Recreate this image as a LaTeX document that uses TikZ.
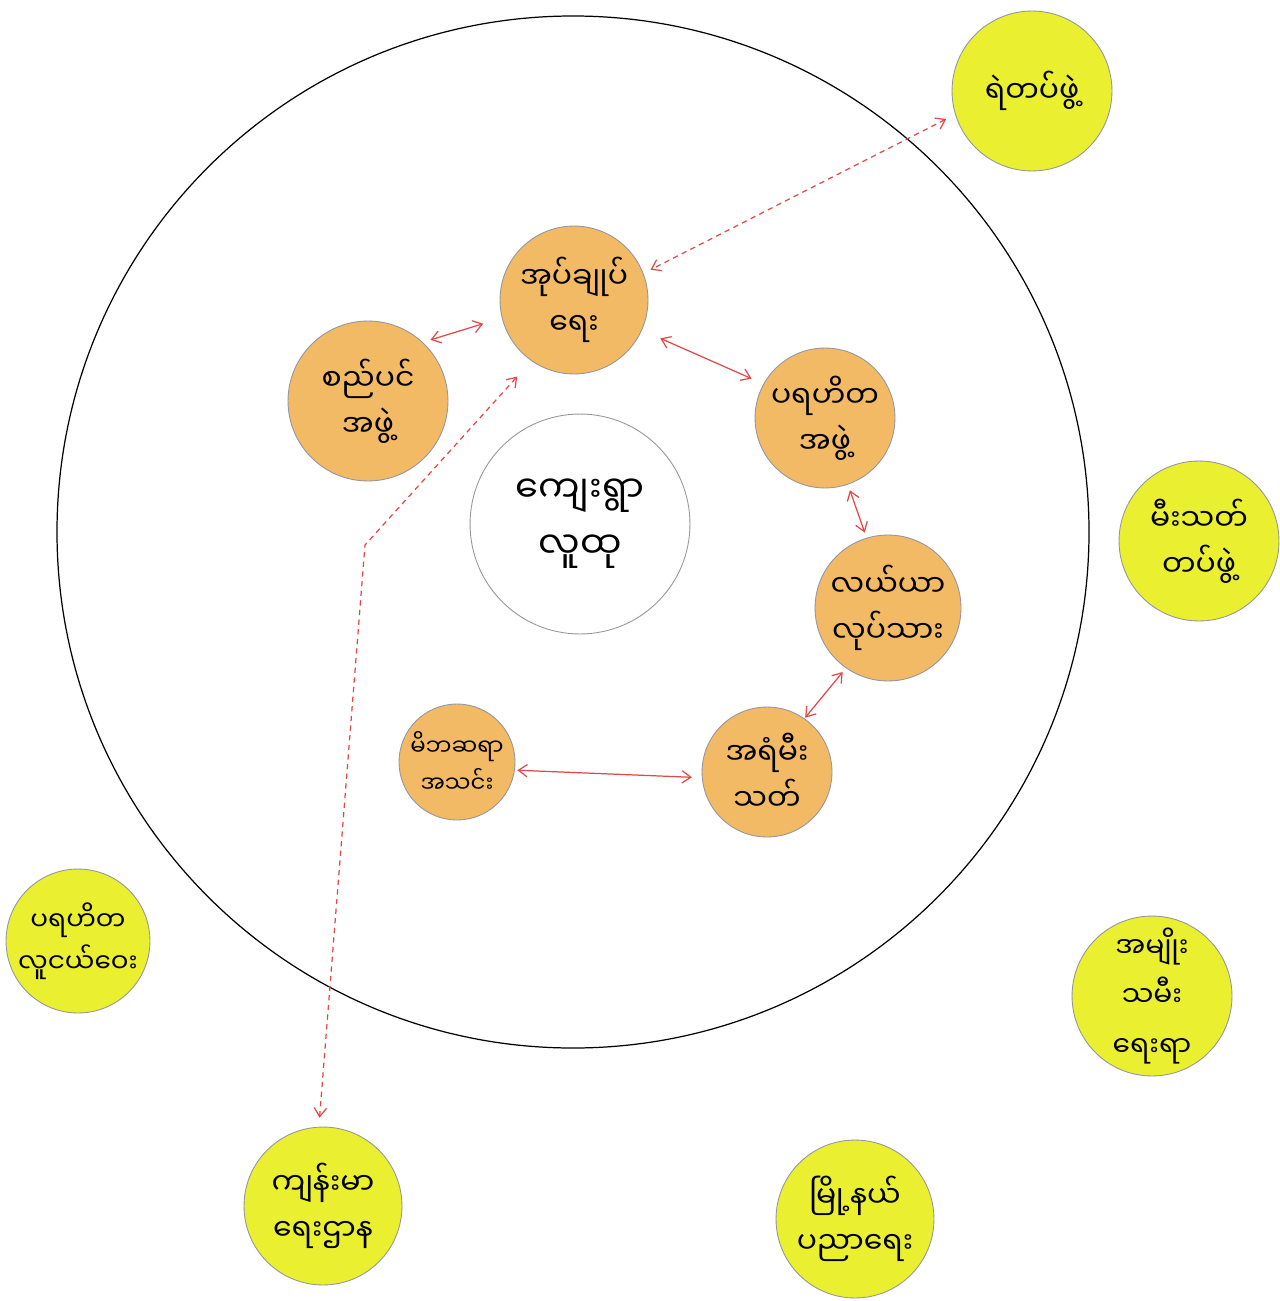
\documentclass[tikz,border=0pt]{standalone}
\usepackage{fontspec}
\newfontfamily\my[Script=Myanmar]{Noto Sans Myanmar UI}
\usetikzlibrary{arrows.meta}
\definecolor{orangefill}{RGB}{242,186,100}
\definecolor{yellowfill}{RGB}{234,240,48}
\definecolor{rimgray}{RGB}{150,150,160}
\definecolor{redline}{RGB}{226,72,72}
\begin{document}
\begin{tikzpicture}[x=0.02cm,y=-0.02cm,
  rad/.style={minimum size=#1*0.04cm},
  ball/.style={circle, draw=rimgray, line width=0.5pt, inner sep=0pt, align=center,
    font=\my\fontsize{17}{26}\selectfont},
  orangeball/.style={ball, fill=orangefill},
  yellowball/.style={ball, fill=yellowfill},
  rel/.style={draw=redline, line width=0.7pt, >={Straight Barb[length=5pt,width=7pt]}, <->},
  reldash/.style={rel, dash pattern=on 3pt off 2.5pt}]
\fill[white] (0,0) rectangle (1279,1301);
\useasboundingbox (0,0) rectangle (1279,1301);
% outer circle
\draw[black, line width=0.7pt] (573,532) circle[radius=516];
% centre
\node[ball, fill=white, rad=110, font=\my\fontsize{21}{32}\selectfont] (vil) at (580,524) {ကျေးရွာ\\လူထု};
% inner (orange) groups
\node[orangeball, rad=74] (admin) at (574,300) {အုပ်ချုပ်\\ရေး};
\node[orangeball, rad=80] (sp) at (368,401) {စည်ပင်\\အဖွဲ့};
\node[orangeball, rad=70] (ph) at (825,418) {ပရဟိတ\\အဖွဲ့};
\node[orangeball, rad=73] (ly) at (888,608) {လယ်ယာ\\လုပ်သား};
\node[orangeball, rad=58, font=\my\fontsize{13}{21}\selectfont] (mb) at (457,762) {မိဘဆရာ\\အသင်း};
\node[orangeball, rad=65] (am) at (767,772) {အရံမီး\\သတ်};
% outer (yellow) groups
\node[yellowball, rad=80] (police) at (1032,91) {ရဲတပ်ဖွဲ့};
\node[yellowball, rad=80] (fire) at (1199,541) {မီးသတ်\\တပ်ဖွဲ့};
\node[yellowball, rad=72, font=\my\fontsize{15}{24}\selectfont] (ngo) at (78,941) {ပရဟိတ\\လူငယ်ဝေး};
\node[yellowball, rad=80, font=\my\fontsize{16}{28}\selectfont] (women) at (1152,996) {အမျိုး\\သမီး\\ရေးရာ};
\node[yellowball, rad=79] (health) at (323,1206) {ကျန်းမာ\\ရေးဌာန};
\node[yellowball, rad=79] (edu) at (855,1219) {မြို့နယ်\\ပညာရေး};
% relations
\draw[rel, shorten <=0.16cm, shorten >=0.39cm] (sp.47) -- (admin.194);
\draw[rel, shorten <=0.40cm, shorten >=0.26cm] (admin.336) -- (ph.151);
\draw[rel, shorten <=0.12cm, shorten >=0.11cm] (ph.289) -- (ly.107);
\draw[rel, shorten <=0.10cm, shorten >=0.02cm] (ly.235) -- (am.55);
\draw[rel, shorten <=0.05cm, shorten >=0.20cm] (mb.352) -- (am.185);
\draw[reldash, shorten <=0.20cm, shorten >=0.16cm] (police.197) -- (admin.21);
\coordinate (bend) at (365,545);
\draw[reldash, shorten <=0.18cm, shorten >=0.42cm] (health.93) -- (bend) -- (admin.235);
\end{tikzpicture}
\end{document}
